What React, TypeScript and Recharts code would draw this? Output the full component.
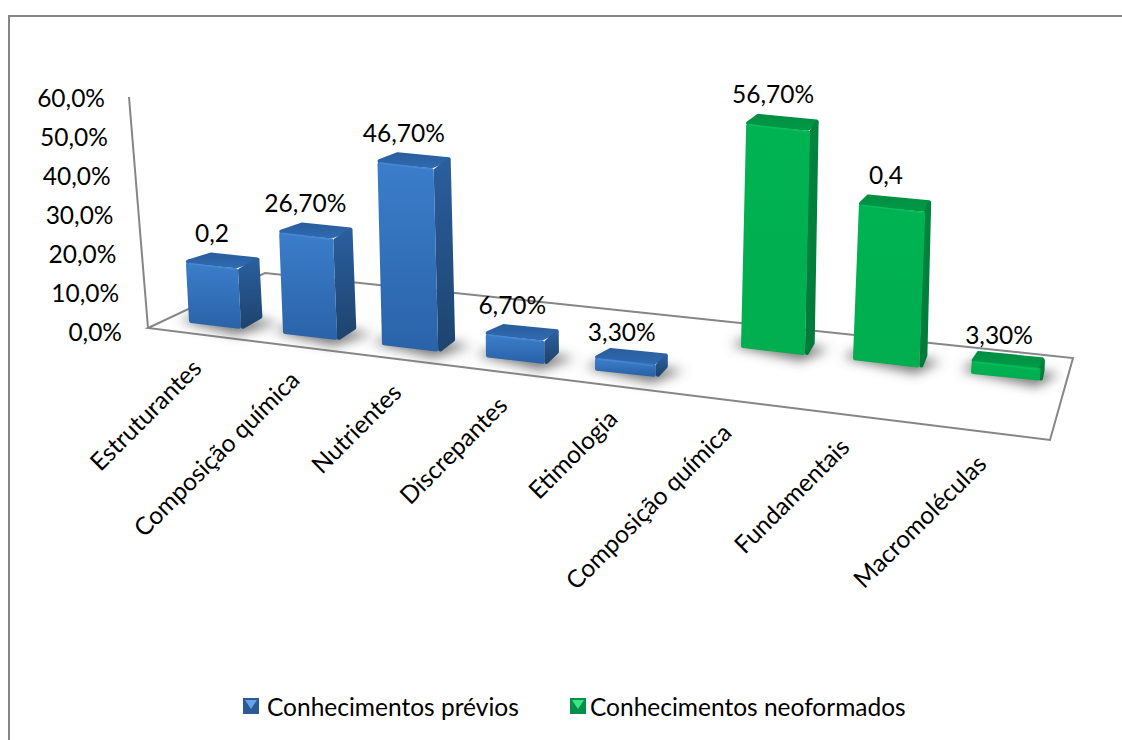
import React from 'react';
import { BarChart, Bar, XAxis, YAxis, Legend, LabelList } from 'recharts';

// values are percentages, labels are printed as in the source
const categories = [
  'Estruturantes',
  'Composição química',
  'Nutrientes',
  'Discrepantes',
  'Etimologia',
  'Composição química',
  'Fundamentais',
  'Macromoléculas',
];
const previos = [16.7, 26.7, 46.7, 6.7, 3.3, null, null, null];
const neoformados = [null, null, null, null, null, 56.7, 40, 3.3];
const dataLabels = ['0,2', '26,70%', '46,70%', '6,70%', '3,30%', '56,70%', '0,4', '3,30%'];
const yTicks = [0, 10, 20, 30, 40, 50, 60];

const data = categories.map((name, i) => ({
  key: `${name}-${i}`,
  name,
  previos: previos[i],
  neoformados: neoformados[i],
}));

const FONT = 'Lato, Carlito, Calibri, sans-serif';
const FONT_SIZE = 24.5;
const GRID = '#868686';
const PLOT_LEFT = 125;
const PLOT_RIGHT = 925;
const PLOT_TOP = 97;
const PLOT_BOTTOM = 331;
const STEP = (PLOT_RIGHT - PLOT_LEFT) / categories.length;

// the two series stand in different rows of the 3D floor
const frontRow = { x0: 189, a: 91.5, b: 2.5, u0: 0, base: 323, slope: 0.116 };
const backRow = { x0: 741, a: 109, b: 3, u0: 5, base: 348, slope: 0.1087 };

const project = (row: any, x: number, width: number, height: number) => {
  const u = (x + width / 2 - PLOT_LEFT - STEP / 2) / STEP - row.u0;
  const X = row.x0 + row.a * u + row.b * u * u;
  const w = width * (0.867 + 0.00036 * (X - 189));
  const baseY = row.base + row.slope * (X - row.x0);
  // short bars keep a thicker rounded cap
  const h = Math.max(height * 1.05 - 8 + (height < 30 ? 4 : 0), 12);
  const lean = (568 - X) * 0.000132;
  const depth = (px: number) => (1190 - px) * 0.0225;
  const bl = [X, baseY];
  const br = [X + w, baseY + 0.11 * w];
  const tl = [X - lean * h, baseY - h];
  const tr = [X + w - lean * h, baseY + 0.11 * w - h];
  const back = (p: number[]) => [p[0] + depth(p[0]), p[1] - 10];
  return { bl, br, tl, tr, btl: back(tl), btr: back(tr), bbr: back(br), bbl: back(bl) };
};

// pull the corners in by half the stroke so the round joins keep the outline size
const pts = (...list: number[][]) => {
  const cx = list.reduce((s, p) => s + p[0], 0) / list.length;
  const cy = list.reduce((s, p) => s + p[1], 0) / list.length;
  return list
    .map((p) => {
      const dx = cx - p[0];
      const dy = cy - p[1];
      const shiftX = Math.min(2, Math.abs(dx) / 2) * Math.sign(dx);
      const shiftY = Math.min(2, Math.abs(dy) / 2) * Math.sign(dy);
      return `${p[0] + shiftX},${p[1] + shiftY}`;
    })
    .join(' ');
};
const raw = (...list: number[][]) => list.map((p) => p.join(',')).join(' ');

const bar3d = (row: any, id: string, shine: string) => (props: any) => {
  const { x, width, height } = props;
  if (!height || height <= 0) return <g />;
  const p = project(row, x, width, height);
  const bevel = { strokeWidth: 4, strokeLinejoin: 'round' as const };
  return (
    <g>
      <polygon
        points={raw(
          [p.bl[0] - 10, p.bl[1] - 3],
          [p.br[0] - 4, p.br[1] + 6],
          [p.bbr[0] + 16, p.bbr[1] + 4],
          [p.bbl[0], p.bbl[1] - 2],
        )}
        fill="#5f5f5f"
        fillOpacity={0.85}
        filter="url(#barShadow)"
      />
      <polygon points={pts(p.tl, p.tr, p.btr, p.btl)} fill={`url(#${id}Top)`} stroke={`url(#${id}Top)`} {...bevel} />
      <polygon points={pts(p.tr, p.br, p.bbr, p.btr)} fill={`url(#${id}Side)`} stroke={`url(#${id}Side)`} {...bevel} />
      <polygon points={pts(p.tl, p.tr, p.br, p.bl)} fill={`url(#${id}Front)`} stroke={`url(#${id}Front)`} {...bevel} />
      <polyline
        points={raw([p.tl[0] + 3, p.tl[1] + 1], [p.tr[0] - 3, p.tr[1] + 1])}
        fill="none"
        stroke={shine}
        strokeOpacity={0.35}
        strokeWidth={1.5}
      />
    </g>
  );
};

const barLabel = (row: any) => (props: any) => {
  const box = props.viewBox || props;
  const { x, width, height } = box;
  if (!height || height <= 0 || dataLabels[props.index] == null) return null;
  const p = project(row, x, width, height);
  const cx = (p.tl[0] + p.tr[0]) / 2 - (p.bl[0] - 189) * 0.009;
  const lift = height < 20 ? 27 : 30;
  return (
    <text x={cx} y={p.tl[1] - lift} textAnchor="middle" dominantBaseline="central" fontFamily={FONT} fontSize={FONT_SIZE} fill="#000">
      {dataLabels[props.index]}
    </text>
  );
};

const CategoryTick = (props: any) => {
  const { x, y, payload, index } = props;
  if (!Number.isFinite(x) || !Number.isFinite(y)) return null;
  const u = (x - PLOT_LEFT - STEP / 2) / STEP;
  const endX = 203 + 96 * u + 2 * u * u + (u > 6.5 ? 15 : 0);
  const endY = 370 + 0.122 * (endX - 205);
  return (
    <text
      key={index}
      x={endX}
      y={endY}
      textAnchor="end"
      fontFamily={FONT}
      fontSize={FONT_SIZE}
      fill="#000"
      transform={`rotate(-45 ${endX} ${endY})`}
    >
      {payload.value}
    </text>
  );
};

// the value labels follow the slant of the back wall
const ValueTick = (props: any) => {
  const { y, payload } = props;
  const endX = 122 - (payload.value / 60) * 17;
  return (
    <text x={endX} y={y} textAnchor="end" dominantBaseline="central" fontFamily={FONT} fontSize={FONT_SIZE} fill="#000">
      {payload.value.toFixed(1).replace('.', ',')}%
    </text>
  );
};

const legendIcons = [
  { edge: '#2c5a94', glow: '#66a3e8' },
  { edge: '#00904a', glow: '#3ce584' },
];

const LegendIcon = ({ edge, glow }: { edge: string; glow: string }) => (
  <svg width={16} height={16} style={{ display: 'block' }}>
    <rect x={0} y={0} width={16} height={16} fill={edge} />
    <polygon points="2,2 14,2 8,11" fill={glow} />
  </svg>
);

const renderLegend = (props: any) => (
  <div style={{ position: 'relative', height: 34, fontFamily: FONT, fontSize: FONT_SIZE, color: '#000' }}>
    {props.payload.map((item: any, i: number) => (
      <div
        key={item.value}
        style={{ position: 'absolute', left: i === 0 ? 243 : 570, top: 0, display: 'flex', alignItems: 'center', height: 34, whiteSpace: 'nowrap' }}
      >
        <LegendIcon {...legendIcons[i]} />
        <span style={{ marginLeft: i === 0 ? 8 : 4 }}>{item.value}</span>
      </div>
    ))}
  </div>
);

const gradient = (id: string, top: string, bottom: string) => (
  <linearGradient id={id} x1="0" y1="0" x2="0" y2="1">
    <stop offset="0%" stopColor={top} />
    <stop offset="100%" stopColor={bottom} />
  </linearGradient>
);

export default function App() {
  return (
    <div style={{ position: 'fixed', left: 0, top: 0, width: 1122, height: 740, overflow: 'hidden', background: '#fff' }}>
      <div style={{ position: 'absolute', left: 8, top: 15, width: 1300, height: 900, border: `2px solid ${GRID}` }} />
      <div style={{ position: 'absolute', left: 0, top: 0 }}>
        <BarChart
          width={1122}
          height={740}
          data={data}
          barSize={60}
          margin={{ top: PLOT_TOP, right: 1122 - PLOT_RIGHT, bottom: 740 - PLOT_BOTTOM - 30, left: 0 }}
        >
          <defs>
            <filter id="barShadow" x="-50%" y="-100%" width="200%" height="300%">
              <feGaussianBlur stdDeviation="6" />
            </filter>
            {gradient('blueFront', '#3b7dca', '#2a63a9')}
            {gradient('blueSide', '#2a5e9d', '#1e446f')}
            {gradient('blueTop', '#2a5f9f', '#2f69ae')}
            {gradient('greenFront', '#00b352', '#00ae4f')}
            {gradient('greenSide', '#00843d', '#007a39')}
            {gradient('greenTop', '#008f42', '#009a47')}
          </defs>
          <polygon points="148,328 265,273 1073,358 1050,440" fill="none" stroke={GRID} strokeWidth={2} />
          <line x1={129} y1={97} x2={148} y2={328} stroke={GRID} strokeWidth={2} />
          <XAxis dataKey="name" height={30} axisLine={false} tickLine={false} interval={0} tick={CategoryTick} />
          <YAxis width={PLOT_LEFT} domain={[0, 60]} ticks={yTicks} axisLine={false} tickLine={false} tick={ValueTick} />
          <Legend
            layout="horizontal"
            align="center"
            verticalAlign="middle"
            itemSorter={null}
            content={renderLegend}
            wrapperStyle={{ position: 'absolute', left: 0, top: 689, width: 1122 }}
          />
          <Bar
            dataKey="previos"
            name="Conhecimentos prévios"
            stackId="a"
            fill="#3070bb"
            isAnimationActive={false}
            shape={bar3d(frontRow, 'blue', '#5f9ce6')}
          >
            <LabelList dataKey="previos" content={barLabel(frontRow)} />
          </Bar>
          <Bar
            dataKey="neoformados"
            name="Conhecimentos neoformados"
            stackId="a"
            fill="#00b050"
            isAnimationActive={false}
            shape={bar3d(backRow, 'green', '#20cc70')}
          >
            <LabelList dataKey="neoformados" content={barLabel(backRow)} />
          </Bar>
        </BarChart>
      </div>
    </div>
  );
}
